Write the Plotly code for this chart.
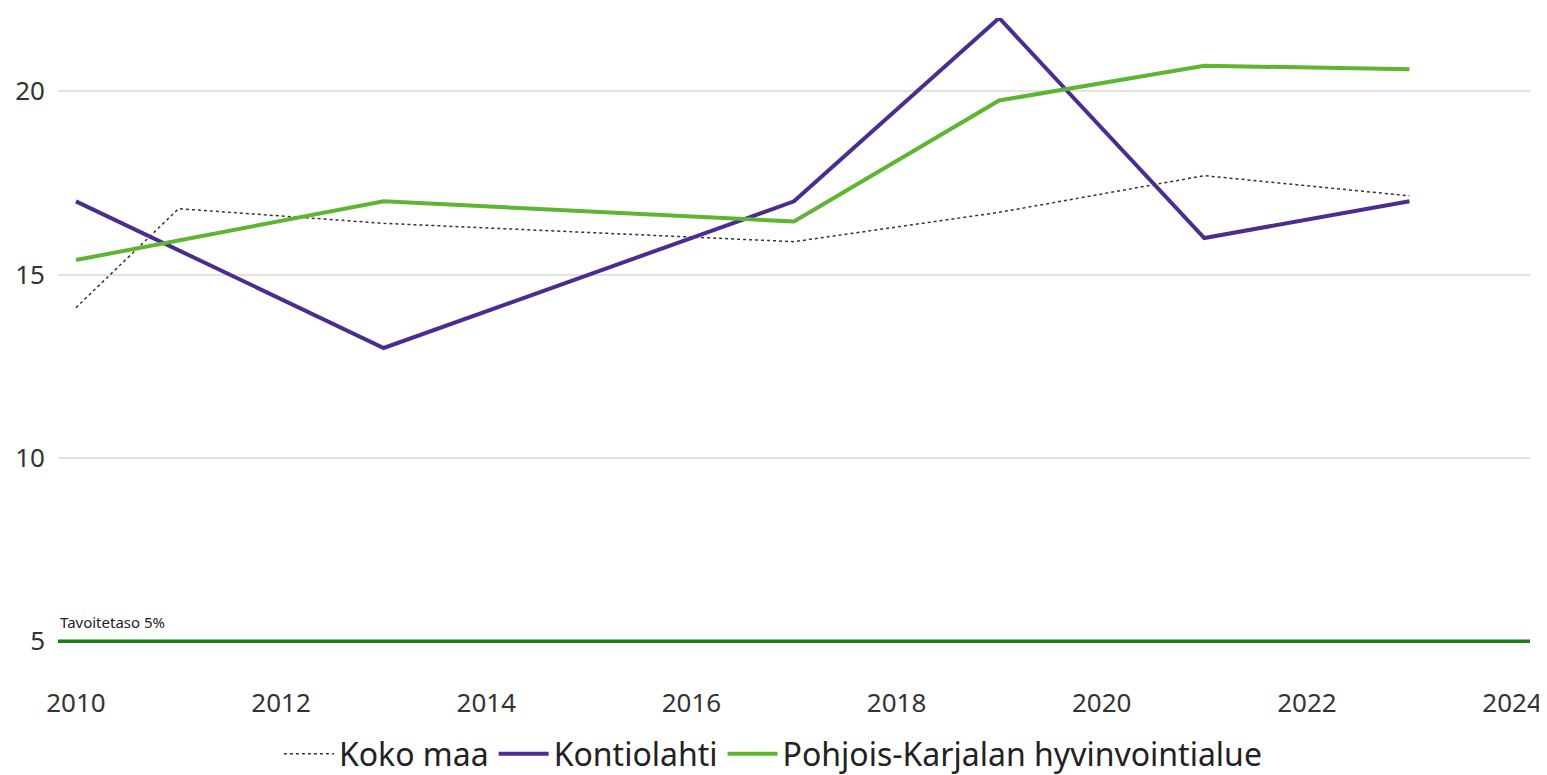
import plotly.graph_objects as go

# data
years_koko = [2010, 2011, 2013, 2015, 2017, 2019, 2021, 2023]
koko_maa = [14.1, 16.8, 16.4, 16.15, 15.9, 16.7, 17.7, 17.15]

years_kunta = [2010, 2013, 2017, 2019, 2021, 2023]
kontiolahti = [17.0, 13.0, 17.0, 22.0, 16.0, 17.0]

years_alue = [2010, 2013, 2017, 2019, 2021, 2023]
pohjois_karjala = [15.4, 17.0, 16.45, 19.75, 20.7, 20.6]

target_value = 5
target_label = "Tavoitetaso 5%"
x_ticks = [2010, 2012, 2014, 2016, 2018, 2020, 2022, 2024]
y_ticks = [5, 10, 15, 20]

font_family = "Noto Sans, Open Sans, sans-serif"
x_range = [2009.825, 2024.175]

fig = go.Figure()

fig.add_trace(go.Scatter(
    x=x_range, y=[target_value, target_value],
    mode="lines", line=dict(color="#17801a", width=3.5),
    showlegend=False, hoverinfo="skip"
))

fig.add_trace(go.Scatter(
    x=years_koko, y=koko_maa, name="Koko maa", mode="lines",
    line=dict(color="#333333", width=1.5, dash="dot")
))
fig.add_trace(go.Scatter(
    x=years_kunta, y=kontiolahti, name="Kontiolahti", mode="lines",
    line=dict(color="#4b2d8f", width=4)
))
fig.add_trace(go.Scatter(
    x=years_alue, y=pohjois_karjala, name="Pohjois-Karjalan hyvinvointialue", mode="lines",
    line=dict(color="#5db532", width=4)
))

fig.add_annotation(
    x=x_range[0], y=target_value, xref="x", yref="y",
    text=target_label, showarrow=False,
    xanchor="left", yanchor="bottom", yshift=7,
    font=dict(family=font_family, size=15, color="#222222")
)

# the page body adds an 8px offset, so the figure is 8px smaller
fig.update_layout(
    width=1539, height=767,
    margin=dict(l=50, r=17, t=10, b=130, autoexpand=False),
    paper_bgcolor="white", plot_bgcolor="white",
    font=dict(family=font_family, color="#333333"),
    legend=dict(
        orientation="h", x=0.486, xanchor="center", y=-0.13, yanchor="top",
        font=dict(size=32, color="#222222"), itemwidth=50,
        traceorder="normal"
    ),
    xaxis=dict(
        range=x_range, tickvals=x_ticks, showgrid=False, automargin=False,
        zeroline=False, showline=False, ticks="",
        tickfont=dict(size=26, color="#333333"), ticklabelstandoff=40
    ),
    yaxis=dict(
        range=[4.9, 22], tickvals=y_ticks, showgrid=True, gridcolor="#e3e3e3",
        gridwidth=1.5, zeroline=False, showline=False, ticks="", automargin=False,
        tickfont=dict(size=26, color="#333333"), ticklabelstandoff=12
    ),
)

fig.write_html("out.html")
